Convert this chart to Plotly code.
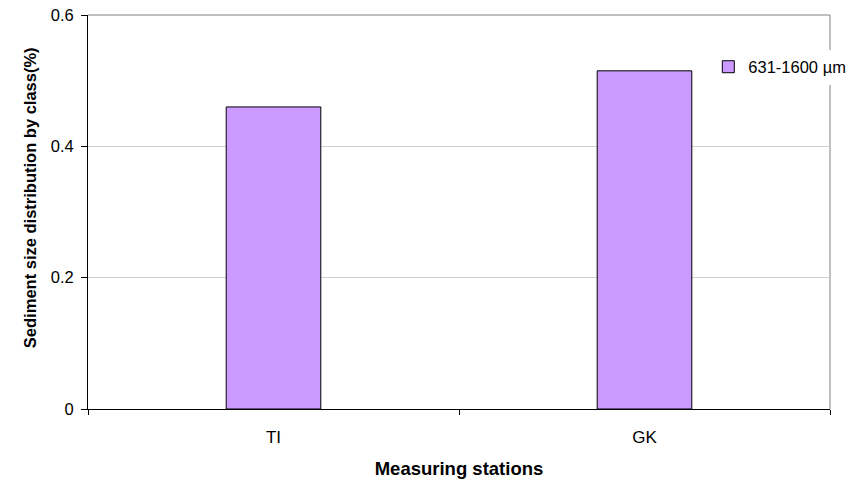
import plotly.graph_objects as go

stations = ["TI", "GK"]
values = [0.46, 0.515]
series_name = "631-1600 µm"
y_ticks = [0, 0.2, 0.4, 0.6]
y_tick_labels = ["0", "0.2", "0.4", "0.6"]
x_title = "Measuring stations"
y_title = "Sediment size distribution by class(%)"

fig = go.Figure()
fig.add_trace(go.Bar(
    x=stations, y=values, name=series_name, width=0.255,
    marker=dict(color="#CC99FF", line=dict(color="#000000", width=1)),
    showlegend=True,
))

font_family = "Liberation Sans, Arial, sans-serif"
fig.update_layout(
    width=863, height=484,
    margin=dict(l=88, r=31, t=15, b=75),
    paper_bgcolor="white", plot_bgcolor="white",
    font=dict(family=font_family, size=16, color="#000000"),
    showlegend=True,
    legend=dict(x=0.836, y=0.868, xanchor="left", yanchor="middle",
                bgcolor="white", borderwidth=0, font=dict(size=16.5),
                itemwidth=30),
    xaxis=dict(
        type="category", showline=True, linecolor="#000000", linewidth=1,
        ticks="outside", ticklen=5, tickcolor="#000000", tickson="boundaries",
        ticklabelstandoff=13,
        showgrid=False, automargin=False,
        title=dict(text="<b>" + x_title + "</b>", font=dict(size=18.5), standoff=15),
        tickfont=dict(size=17),
    ),
    yaxis=dict(
        range=[0, 0.6], tickvals=y_ticks, ticktext=y_tick_labels,
        showline=True, linecolor="#000000", linewidth=1,
        ticks="outside", ticklen=6, tickcolor="#000000", ticklabelstandoff=4,
        showgrid=True, gridcolor="#D0D0D0", gridwidth=1, zeroline=False,
        automargin=False,
        tickfont=dict(size=16.5),
    ),
    annotations=[
        dict(text="<b>" + y_title + "</b>", textangle=-90,
             xref="paper", yref="paper", x=-0.078, y=0.5355,
             xanchor="center", yanchor="middle", showarrow=False,
             font=dict(size=16.5)),
    ],
    shapes=[
        dict(type="line", xref="paper", yref="paper", x0=0, x1=1, y0=1, y1=1,
             line=dict(color="#808080", width=1), layer="below"),
        dict(type="line", xref="paper", yref="paper", x0=1, x1=1, y0=0, y1=1,
             line=dict(color="#808080", width=1), layer="below"),
    ],
)

fig.write_html("out.html", config={"displayModeBar": False},
               post_script="document.body.style.margin='0';")
